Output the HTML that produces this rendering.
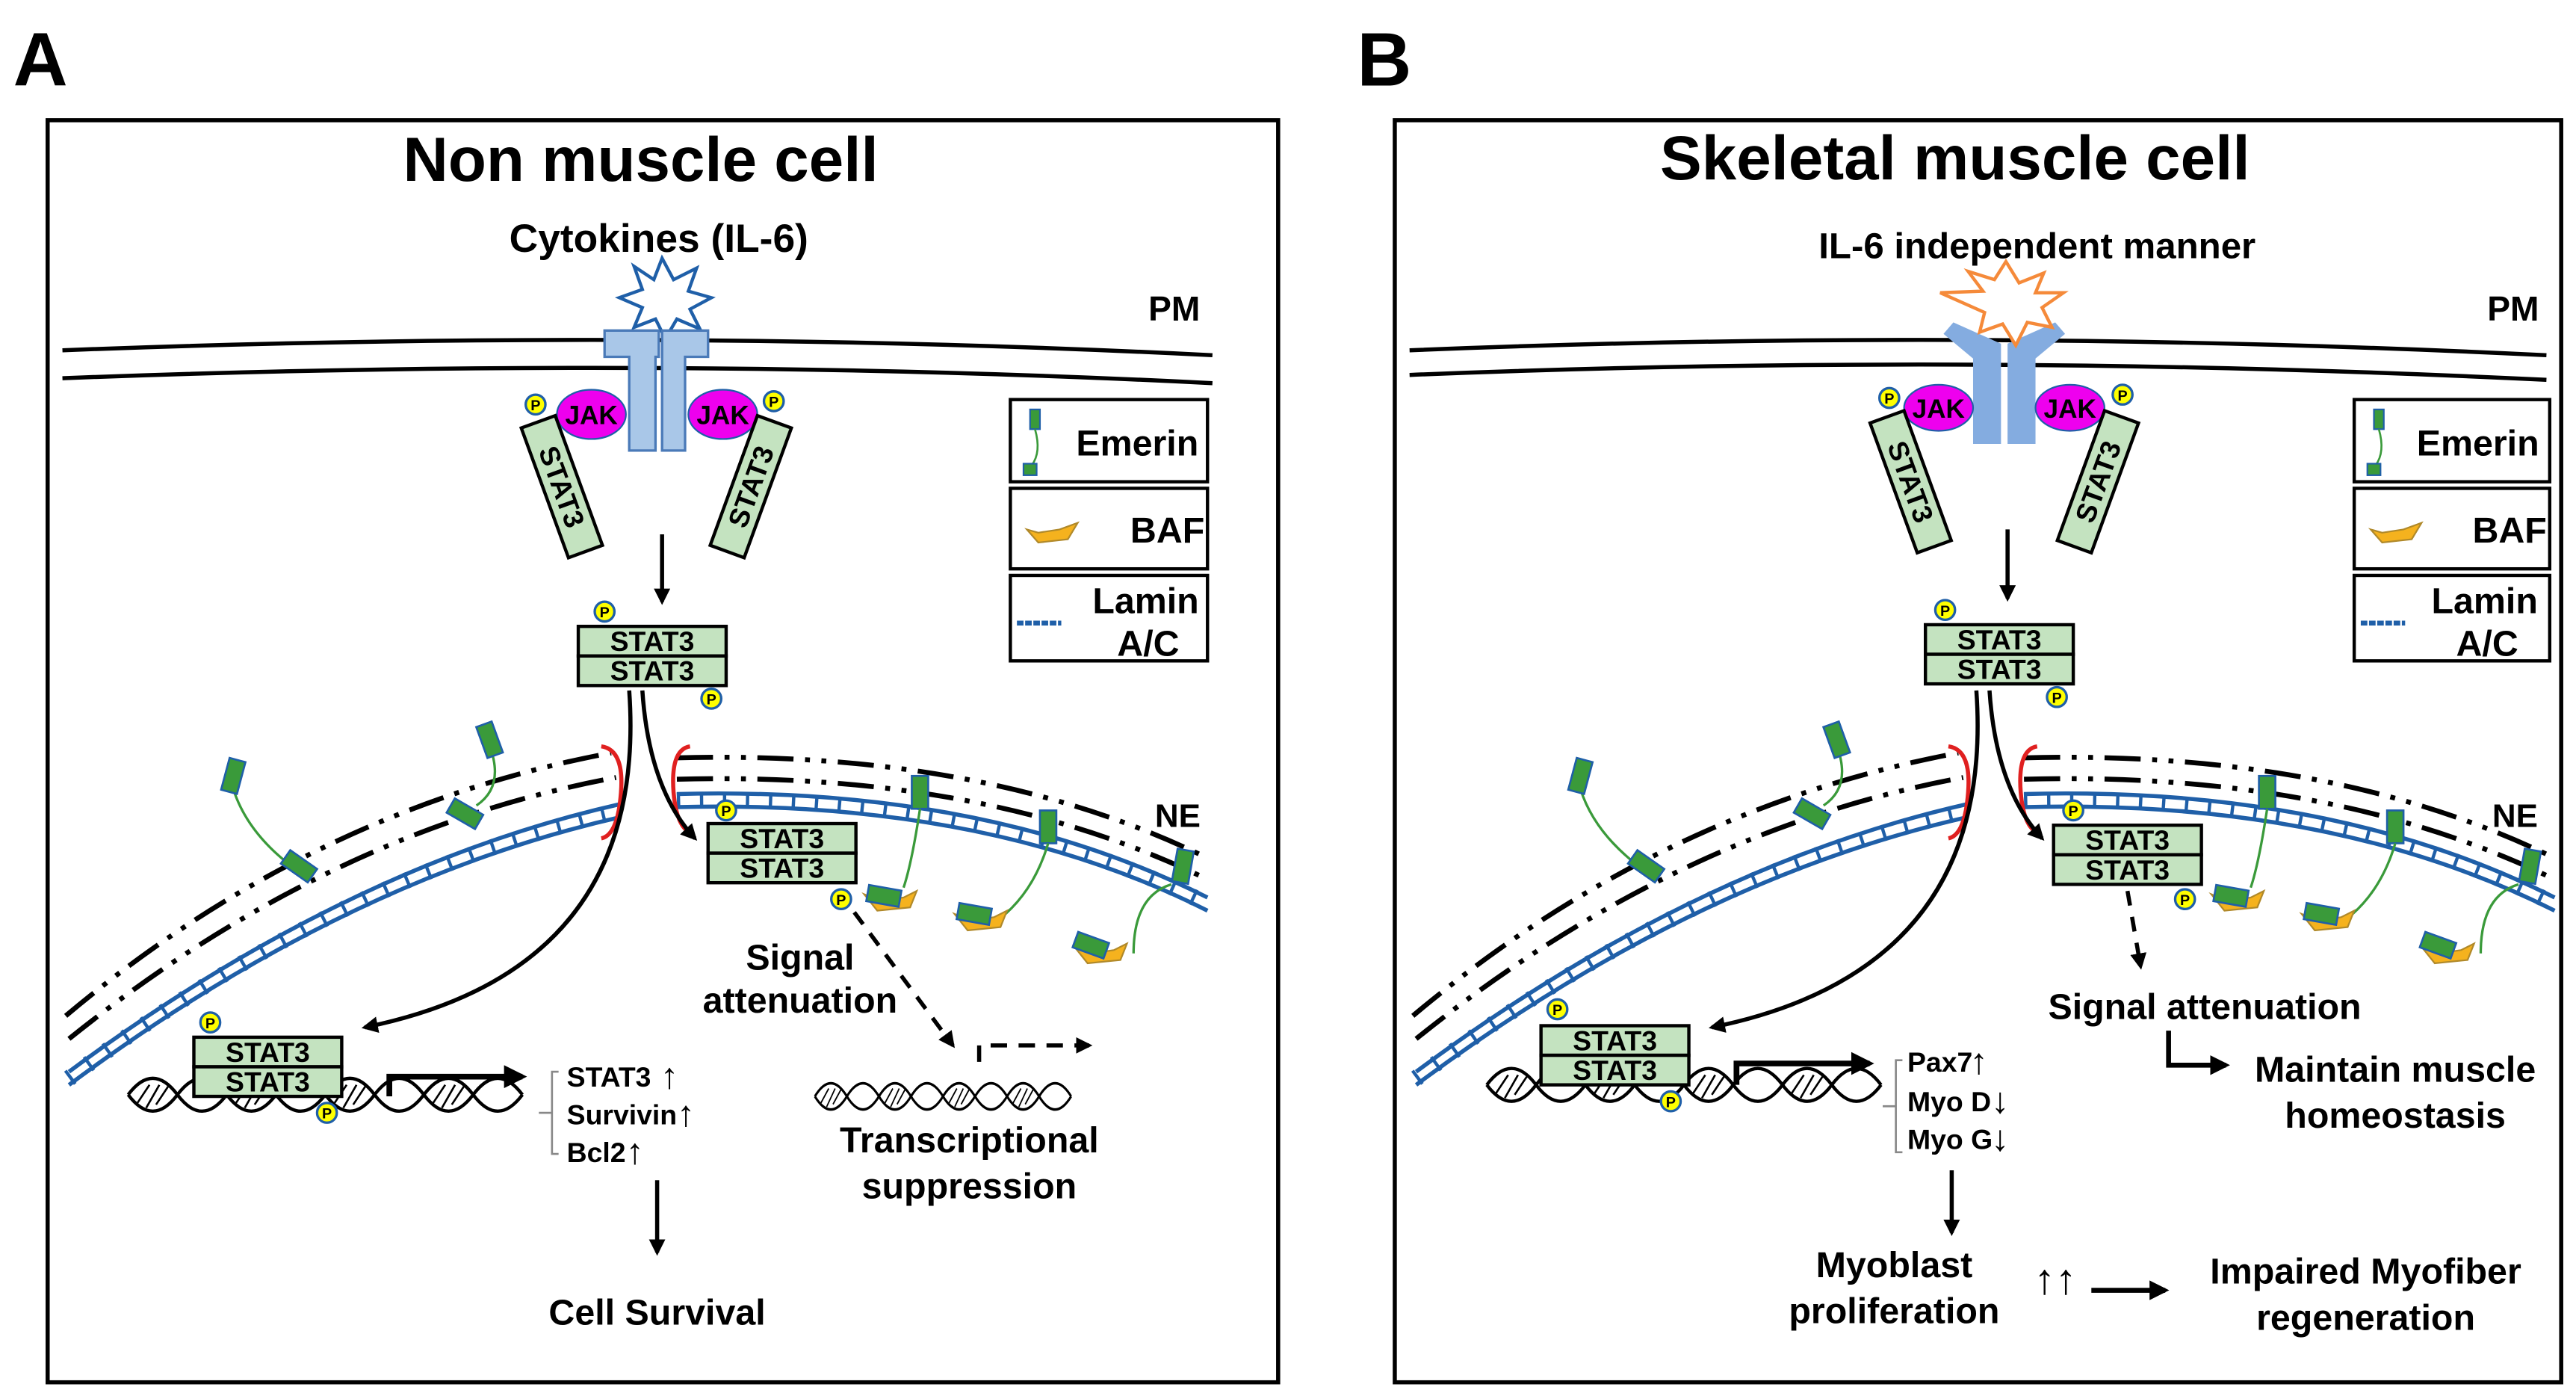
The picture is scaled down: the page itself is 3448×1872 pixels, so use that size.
<!DOCTYPE html>
<html><head><meta charset="utf-8"><style>
html,body{margin:0;padding:0;background:#fff;}
svg{display:block;}
text{font-family:"Liberation Sans",Arial,sans-serif;font-weight:bold;fill:#000;}
</style></head><body>
<svg width="3448" height="1872" viewBox="0 0 1568 851" xmlns="http://www.w3.org/2000/svg">
<defs>
<marker id="ah" viewBox="0 0 10 10" refX="8" refY="5" markerWidth="4" markerHeight="4" orient="auto"><path d="M0,0L10,5L0,10z" fill="#000"/></marker>
<g id="pc"><circle r="6" fill="#ffff00" stroke="#1f5fa8" stroke-width="1.5"/><text y="3.5" text-anchor="middle" font-size="9" font-weight="normal">P</text></g>
<g id="dimer">
<rect x="0" y="0" width="90" height="18" fill="#c4e3c0" stroke="#000" stroke-width="2"/>
<rect x="0" y="18" width="90" height="18" fill="#c4e3c0" stroke="#000" stroke-width="2"/>
<text x="45" y="15" text-anchor="middle" font-size="17" font-weight="normal">STAT3</text>
<text x="45" y="33" text-anchor="middle" font-size="17" font-weight="normal">STAT3</text>
</g>
<g id="dna" fill="none" stroke="#000" stroke-width="2">
<path d="M0,0 q15,-20 30,0 t30,0 t30,0 t30,0 t30,0 t30,0 t30,0 t30,0"/>
<path d="M0,0 q15,20 30,0 t30,0 t30,0 t30,0 t30,0 t30,0 t30,0 t30,0"/>
<path d="M5,6 l8,-12 M11,8 l8,-14 M17,6 l8,-12 M65,6 l8,-12 M71,8 l8,-14 M77,6 l8,-12 M125,6 l8,-12 M131,8 l8,-14 M137,6 l8,-12 M185,6 l8,-12 M191,8 l8,-14 M197,6 l8,-12" stroke-width="1.2"/>
</g>
<g id="emer"><rect x="-5" y="-10" width="10" height="20" fill="#3a9a3a" stroke="#1f5fa8" stroke-width="1.2"/></g>
<g id="baf"><path d="M-14,-4 L-6,6 L14,4 L18,-6 L10,-2 L-4,0 Z" fill="#f5b21e" stroke="#b0892a" stroke-width="1"/></g>
<g id="ne">
<path d="M40,618 Q190,492 372,458" fill="none" stroke="#000" stroke-width="3" stroke-dasharray="22,7,3,7,3,7"/>
<path d="M42,632 Q200,505 375,473" fill="none" stroke="#000" stroke-width="3" stroke-dasharray="22,7,3,7,3,7"/>
<path d="M42,652 Q210,527 378,489" fill="none" stroke="#1f5fa8" stroke-width="2.5"/>
<path d="M42,660 Q210,535 378,497" fill="none" stroke="#1f5fa8" stroke-width="2.5"/>
<path d="M42,656 Q210,531 378,493" fill="none" stroke="#1f5fa8" stroke-width="10" stroke-dasharray="2,12"/>
<path d="M412,461 Q600,456 735,522" fill="none" stroke="#000" stroke-width="3" stroke-dasharray="22,7,3,7,3,7"/>
<path d="M412,474 Q600,469 735,535" fill="none" stroke="#000" stroke-width="3" stroke-dasharray="22,7,3,7,3,7"/>
<path d="M412,483 Q600,478 735,546" fill="none" stroke="#1f5fa8" stroke-width="2.5"/>
<path d="M412,491 Q600,486 735,554" fill="none" stroke="#1f5fa8" stroke-width="2.5"/>
<path d="M412,487 Q600,482 735,550" fill="none" stroke="#1f5fa8" stroke-width="10" stroke-dasharray="2,12"/>
<path d="M366,454 Q380,456 378,482 Q376,508 366,510" fill="none" stroke="#e02020" stroke-width="2.5"/>
<path d="M420,454 Q408,456 410,482 Q412,505 422,507" fill="none" stroke="#e02020" stroke-width="2.5"/>
<path d="M142,480 Q150,505 175,525" fill="none" stroke="#3a9a3a" stroke-width="1.5"/>
<use href="#emer" transform="translate(142,472) rotate(15)"/>
<use href="#emer" transform="translate(182,527) rotate(-55)"/>
<path d="M300,460 Q305,480 290,490" fill="none" stroke="#3a9a3a" stroke-width="1.5"/>
<use href="#emer" transform="translate(298,450) rotate(-20)"/>
<use href="#emer" transform="translate(283,495) rotate(-60)"/>
<use href="#emer" transform="translate(560,482) rotate(0)"/>
<path d="M560,492 Q555,525 550,540" fill="none" stroke="#3a9a3a" stroke-width="1.5"/>
<use href="#baf" transform="translate(540,548)"/><use href="#emer" transform="translate(538,545) rotate(-80)"/>
<use href="#emer" transform="translate(638,503) rotate(0)"/>
<path d="M638,513 Q630,540 612,556" fill="none" stroke="#3a9a3a" stroke-width="1.5"/>
<use href="#baf" transform="translate(595,560)"/><use href="#emer" transform="translate(593,556) rotate(-80)"/>
<use href="#emer" transform="translate(720,527) rotate(10)"/>
<path d="M713,538 Q690,545 690,580" fill="none" stroke="#3a9a3a" stroke-width="1.5"/>
<use href="#baf" transform="translate(668,580)"/><use href="#emer" transform="translate(664,575) rotate(-70)"/>
<path d="M383,420 Q395,590 222,625" fill="none" stroke="#000" stroke-width="2.5" marker-end="url(#ah)"/>
<path d="M391,420 Q395,480 423,510" fill="none" stroke="#000" stroke-width="2.5" marker-end="url(#ah)"/>
</g>
</defs>

<text x="8" y="52" font-size="46">A</text>
<text x="826" y="52" font-size="46">B</text>
<rect x="29" y="73" width="749" height="768" fill="none" stroke="#000" stroke-width="2.5"/>
<rect x="849" y="73" width="710" height="768" fill="none" stroke="#000" stroke-width="2.5"/>

<!-- PANEL A -->
<text x="390" y="110" font-size="38" text-anchor="middle">Non muscle cell</text>
<text x="401" y="153" font-size="24" text-anchor="middle" textLength="182" lengthAdjust="spacingAndGlyphs">Cytokines (IL-6)</text>
<path d="M38,213 Q400,199 738,216" fill="none" stroke="#000" stroke-width="2.5"/>
<path d="M38,230 Q400,216 738,233" fill="none" stroke="#000" stroke-width="2.5"/>
<text x="699" y="195" font-size="21">PM</text>
<polygon points="403,157 410,170 424,163 419,177 433,181 420,188 426,200 412,194 405,206 399,194 386,199 391,187 377,181 391,176 386,162 398,170" fill="#fff" stroke="#1f5fa8" stroke-width="2"/>
<path d="M368,201 h33 v16 h-2 v57 h-16 v-57 h-15z" fill="#a9c7e8" stroke="#4a7ab8" stroke-width="1.5"/>
<path d="M431,201 h-28 v73 h14 v-57 h14z" fill="#a9c7e8" stroke="#4a7ab8" stroke-width="1.5"/>
<ellipse cx="360" cy="252" rx="21" ry="15" fill="#ee00ee" stroke="#1f5fa8" stroke-width="1"/>
<ellipse cx="440" cy="252" rx="21" ry="15" fill="#ee00ee" stroke="#1f5fa8" stroke-width="1"/>
<text x="360" y="258" font-size="16" text-anchor="middle" font-weight="normal">JAK</text>
<text x="440" y="258" font-size="16" text-anchor="middle" font-weight="normal">JAK</text>
<g transform="translate(342,296) rotate(-20)"><rect x="-11" y="-42" width="22" height="84" fill="#c4e3c0" stroke="#000" stroke-width="2"/><text transform="rotate(90)" x="0" y="6" font-size="17" text-anchor="middle" font-weight="normal">STAT3</text></g>
<g transform="translate(457,296) rotate(20)"><rect x="-11" y="-42" width="22" height="84" fill="#c4e3c0" stroke="#000" stroke-width="2"/><text transform="rotate(-90)" x="0" y="6" font-size="17" text-anchor="middle" font-weight="normal">STAT3</text></g>
<use href="#pc" x="326" y="246"/><use href="#pc" x="471" y="244"/>
<line x1="403" y1="325" x2="403" y2="366" stroke="#000" stroke-width="2.5" marker-end="url(#ah)"/>
<use href="#dimer" x="352" y="381"/>
<use href="#pc" x="368" y="372"/><use href="#pc" x="433" y="425"/>
<rect x="615" y="243" width="120" height="50" fill="#fff" stroke="#000" stroke-width="2"/>
<rect x="615" y="297" width="120" height="49" fill="#fff" stroke="#000" stroke-width="2"/>
<rect x="615" y="350" width="120" height="52" fill="#fff" stroke="#000" stroke-width="2"/>
<rect x="627" y="249" width="6" height="12" fill="#3a9a3a" stroke="#1f5fa8"/><path d="M630,261 Q634,275 628,283" fill="none" stroke="#3a9a3a" stroke-width="1.2"/><rect x="623" y="282" width="8" height="7" fill="#3a9a3a" stroke="#1f5fa8"/>
<text x="655" y="277" font-size="22">Emerin</text>
<path d="M625,322 L632,330 L650,328 L656,318 L645,322 L632,324Z" fill="#f5b21e" stroke="#b0892a"/>
<text x="688" y="330" font-size="22">BAF</text>
<line x1="619" y1="379" x2="646" y2="379" stroke="#1f5fa8" stroke-width="3" stroke-dasharray="4,1"/>
<text x="665" y="373" font-size="22">Lamin</text><text x="680" y="399" font-size="22">A/C</text>
<use href="#ne"/>
<text x="703" y="503" font-size="20">NE</text>
<use href="#dimer" x="431" y="501"/>
<use href="#pc" x="442" y="493"/>
<use href="#dna" x="78" y="666"/>
<use href="#dimer" x="118" y="631"/>
<use href="#pc" x="128" y="622"/><use href="#pc" x="199" y="677"/>
<path d="M237,667 V655 H318" fill="none" stroke="#000" stroke-width="3.5" marker-end="url(#ah)"/>
<path d="M340,652 h-4 v50 h4 M336,677 h-8" fill="none" stroke="#888" stroke-width="1.2"/>
<text x="345" y="661" font-size="17" font-weight="normal">STAT3</text><text x="402" y="662" font-size="22" font-weight="normal">↑</text>
<text x="345" y="684" font-size="17" font-weight="normal">Survivin</text><text x="412" y="685" font-size="22" font-weight="normal">↑</text>
<text x="345" y="707" font-size="17" font-weight="normal">Bcl2</text><text x="381" y="708" font-size="22" font-weight="normal">↑</text>
<line x1="400" y1="718" x2="400" y2="762" stroke="#000" stroke-width="2.5" marker-end="url(#ah)"/>
<text x="400" y="806" font-size="22" text-anchor="middle">Cell Survival</text>
<use href="#pc" x="512" y="547"/>
<text x="487" y="590" font-size="22" text-anchor="middle">Signal</text>
<text x="487" y="616" font-size="22" text-anchor="middle">attenuation</text>
<line x1="520" y1="555" x2="580" y2="636" stroke="#000" stroke-width="2.5" stroke-dasharray="9,7" marker-end="url(#ah)"/>
<path d="M596,646 V636 H663" fill="none" stroke="#000" stroke-width="2.5" stroke-dasharray="10,7" marker-end="url(#ah)"/>
<g transform="translate(496,667) scale(0.65,0.8)"><use href="#dna"/></g>
<text x="590" y="701" font-size="22" text-anchor="middle">Transcriptional</text>
<text x="590" y="729" font-size="22" text-anchor="middle">suppression</text>

<!-- PANEL B -->
<text x="1190" y="109" font-size="38" text-anchor="middle">Skeletal muscle cell</text>
<text x="1240" y="157" font-size="22" text-anchor="middle" textLength="266" lengthAdjust="spacingAndGlyphs">IL-6 independent manner</text>
<path d="M858,213 Q1200,199 1550,216" fill="none" stroke="#000" stroke-width="2.5"/>
<path d="M858,228 Q1200,214 1550,231" fill="none" stroke="#000" stroke-width="2.5"/>
<text x="1514" y="195" font-size="21">PM</text>
<path d="M1183,203 l6,-7 l29,13 v61 h-17 v-52z" fill="#84ace0"/>
<path d="M1257,203 l-6,-7 l-29,13 v61 h17 v-52z" fill="#84ace0"/>
<polygon points="1221,159 1229,172 1244,166 1239,178 1256,178 1243,187 1249,199 1234,196 1227,210 1219,197 1205,202 1208,190 1181,178 1207,177 1198,165 1214,170" fill="#fff" stroke="#f58a3a" stroke-width="2"/>
<ellipse cx="1180" cy="248" rx="21" ry="14" fill="#ee00ee" stroke="#1f5fa8" stroke-width="1"/>
<ellipse cx="1260" cy="248" rx="21" ry="14" fill="#ee00ee" stroke="#1f5fa8" stroke-width="1"/>
<text x="1180" y="254" font-size="16" text-anchor="middle" font-weight="normal">JAK</text>
<text x="1260" y="254" font-size="16" text-anchor="middle" font-weight="normal">JAK</text>
<g transform="translate(1163,293) rotate(-20)"><rect x="-11" y="-42" width="22" height="84" fill="#c4e3c0" stroke="#000" stroke-width="2"/><text transform="rotate(90)" x="0" y="6" font-size="17" text-anchor="middle" font-weight="normal">STAT3</text></g>
<g transform="translate(1277,293) rotate(20)"><rect x="-11" y="-42" width="22" height="84" fill="#c4e3c0" stroke="#000" stroke-width="2"/><text transform="rotate(-90)" x="0" y="6" font-size="17" text-anchor="middle" font-weight="normal">STAT3</text></g>
<use href="#pc" x="1150" y="242"/><use href="#pc" x="1292" y="240"/>
<line x1="1222" y1="322" x2="1222" y2="364" stroke="#000" stroke-width="2.5" marker-end="url(#ah)"/>
<use href="#dimer" x="1172" y="380"/>
<use href="#pc" x="1184" y="371"/><use href="#pc" x="1252" y="424"/>
<rect x="1433" y="243" width="119" height="50" fill="#fff" stroke="#000" stroke-width="2"/>
<rect x="1433" y="297" width="119" height="49" fill="#fff" stroke="#000" stroke-width="2"/>
<rect x="1433" y="350" width="119" height="52" fill="#fff" stroke="#000" stroke-width="2"/>
<rect x="1445" y="249" width="6" height="12" fill="#3a9a3a" stroke="#1f5fa8"/><path d="M1448,261 Q1452,275 1446,283" fill="none" stroke="#3a9a3a" stroke-width="1.2"/><rect x="1441" y="282" width="8" height="7" fill="#3a9a3a" stroke="#1f5fa8"/>
<text x="1471" y="277" font-size="22">Emerin</text>
<path d="M1443,322 L1450,330 L1468,328 L1474,318 L1463,322 L1450,324Z" fill="#f5b21e" stroke="#b0892a"/>
<text x="1505" y="330" font-size="22">BAF</text>
<line x1="1437" y1="379" x2="1464" y2="379" stroke="#1f5fa8" stroke-width="3" stroke-dasharray="4,1"/>
<text x="1480" y="373" font-size="22">Lamin</text><text x="1495" y="399" font-size="22">A/C</text>
<g transform="translate(820,0)"><use href="#ne"/></g>
<text x="1517" y="503" font-size="20">NE</text>
<use href="#dimer" x="1250" y="502"/>
<use href="#pc" x="1262" y="493"/><use href="#pc" x="1330" y="547"/>
<use href="#dna" x="905" y="660"/>
<use href="#dimer" x="938" y="624"/>
<use href="#pc" x="948" y="614"/><use href="#pc" x="1017" y="670"/>
<path d="M1057,660 V647 H1138" fill="none" stroke="#000" stroke-width="3.5" marker-end="url(#ah)"/>
<path d="M1158,645 h-4 v56 h4 M1154,673 h-8" fill="none" stroke="#888" stroke-width="1.2"/>
<text x="1161" y="652" font-size="17" font-weight="normal">Pax7</text><text x="1199" y="653" font-size="22" font-weight="normal">↑</text>
<text x="1161" y="676" font-size="17" font-weight="normal">Myo D</text><text x="1212" y="677" font-size="22" font-weight="normal">↓</text>
<text x="1161" y="699" font-size="17" font-weight="normal">Myo G</text><text x="1212" y="700" font-size="22" font-weight="normal">↓</text>
<line x1="1188" y1="712" x2="1188" y2="750" stroke="#000" stroke-width="2.5" marker-end="url(#ah)"/>
<text x="1153" y="777" font-size="22" text-anchor="middle">Myoblast</text>
<text x="1153" y="805" font-size="22" text-anchor="middle">proliferation</text>
<text x="1251" y="787" font-size="26" text-anchor="middle" font-weight="normal">↑↑</text>
<line x1="1273" y1="785" x2="1318" y2="785" stroke="#000" stroke-width="3" marker-end="url(#ah)"/>
<text x="1440" y="781" font-size="22" text-anchor="middle">Impaired Myofiber</text>
<text x="1440" y="809" font-size="22" text-anchor="middle">regeneration</text>
<line x1="1295" y1="542" x2="1303" y2="588" stroke="#000" stroke-width="2.5" stroke-dasharray="9,7" marker-end="url(#ah)"/>
<text x="1342" y="620" font-size="22" text-anchor="middle">Signal attenuation</text>
<path d="M1320,627 V648 H1355" fill="none" stroke="#000" stroke-width="3" marker-end="url(#ah)"/>
<text x="1458" y="658" font-size="22" text-anchor="middle">Maintain muscle</text>
<text x="1458" y="686" font-size="22" text-anchor="middle">homeostasis</text>
</svg>
</body></html>
